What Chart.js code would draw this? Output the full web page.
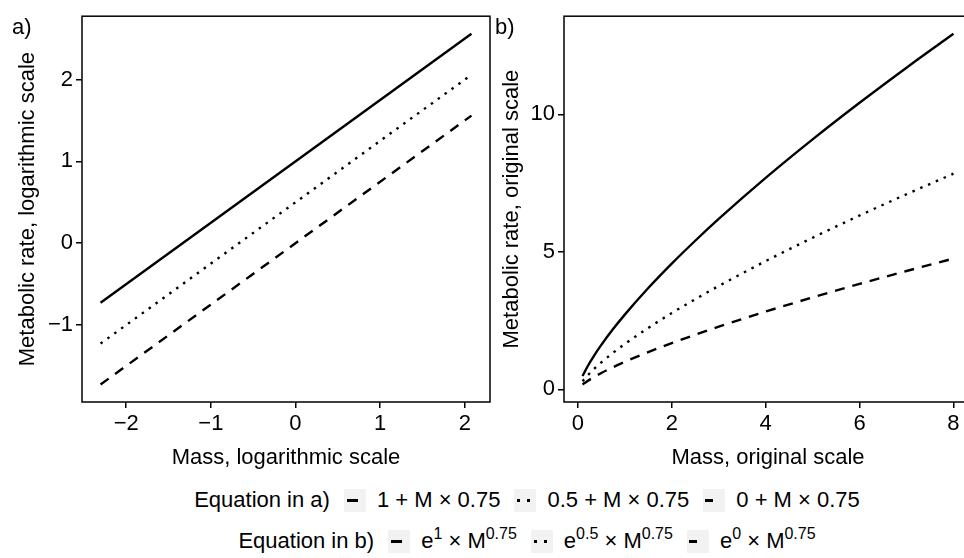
<!DOCTYPE html>
<html>
<head>
<meta charset="utf-8">
<script src="https://cdn.jsdelivr.net/npm/chart.js@4"></script>
<style>
  body { margin: 0; width: 964px; height: 558px; overflow: hidden; background: #fff;
         font-family: "Liberation Sans", Arial, sans-serif; color: #000; position: relative; }
  canvas { position: absolute; top: 0; }
  .tag { position: absolute; font-size: 22px; line-height: 24px; }
  .row { position: absolute; left: 82px; width: 890px; display: flex; justify-content: center;
         align-items: center; font-size: 22px; height: 26px; white-space: nowrap; }
  .key { width: 22px; height: 23px; background: #f2f2f2; position: relative; margin: 0 11px 0 14px; flex: none; }
  .key i { position: absolute; top: 10px; height: 3px; background: #000; }
  sup { font-size: 16px; vertical-align: 9px; line-height: 0; }
</style>
</head>
<body>
<canvas id="chartA" width="500" height="480" style="left:0"></canvas>
<canvas id="chartB" width="500" height="480" style="left:480px"></canvas>
<div class="tag" style="left:12px; top:15px">a)</div>
<div class="tag" style="left:495px; top:15px">b)</div>

<div class="row" style="top:487px">
  <span>Equation in a)</span>
  <span class="key"><i style="left:3px;width:11px"></i></span><span>1 + M × 0.75</span>
  <span class="key"><i style="left:3px;width:3px"></i><i style="left:13px;width:3px"></i></span><span>0.5 + M × 0.75</span>
  <span class="key"><i style="left:2px;width:8px"></i></span><span>0 + M × 0.75</span>
</div>
<div class="row" style="top:528px">
  <span>Equation in b)</span>
  <span class="key"><i style="left:3px;width:11px"></i></span><span>e<sup>1</sup> × M<sup>0.75</sup></span>
  <span class="key"><i style="left:3px;width:3px"></i><i style="left:13px;width:3px"></i></span><span>e<sup>0.5</sup> × M<sup>0.75</sup></span>
  <span class="key"><i style="left:2px;width:8px"></i></span><span>e<sup>0</sup> × M<sup>0.75</sup></span>
</div>

<script>
// panel a: log mass vs log metabolic rate
const logMass = [-2.303, 2.079];
const logRate1 = [-0.727, 2.559];
const logRate05 = [-1.227, 2.059];
const logRate0 = [-1.727, 1.559];
const ticksAx = [-2, -1, 0, 1, 2];
const ticksAy = [-1, 0, 1, 2];

// panel b: original scale
const mass = [0.1, 0.2, 0.35, 0.5, 0.75, 1, 1.5, 2, 2.5, 3, 4, 5, 6, 7, 8];
const rate1 = [0.483, 0.813, 1.237, 1.616, 2.191, 2.718, 3.684, 4.572, 5.404, 6.196, 7.688, 9.089, 10.421, 11.698, 12.930];
const rate05 = [0.293, 0.493, 0.750, 0.980, 1.329, 1.649, 2.235, 2.773, 3.278, 3.758, 4.663, 5.513, 6.321, 7.095, 7.843];
const rate0 = [0.178, 0.299, 0.455, 0.595, 0.806, 1.000, 1.355, 1.682, 1.988, 2.280, 2.828, 3.344, 3.834, 4.304, 4.757];
const ticksBx = [0, 2, 4, 6, 8];
const ticksBy = [0, 5, 10];

const fontMain = { family: '"Liberation Sans", Arial, sans-serif', size: 22 };
const minus = v => String(v).replace('-', '\u2212');

const frame = {
    id: 'frame',
    afterDraw(chart) {
        const a = chart.chartArea, c = chart.ctx;
        c.save();
        c.strokeStyle = '#000';
        c.lineWidth = 1.5;
        c.strokeRect(a.left, a.top, a.right - a.left, a.bottom - a.top);
        c.restore();
    }
};

function toPts(xs, ys) {
    return xs.map((x, i) => ({ x: x, y: ys[i] }));
}

function lineSet(xs, ys, dash) {
    return {
        data: toPts(xs, ys),
        borderColor: '#000',
        borderWidth: 2.4,
        borderDash: dash,
        pointRadius: 0,
        tension: 0.4,
        cubicInterpolationMode: 'monotone'
    };
}

function axis(min, max, tickVals, title, isY, w, titlePad) {
    return {
        type: 'linear',
        min: min,
        max: max,
        afterBuildTicks: s => { s.ticks = tickVals.map(v => ({ value: v })); },
        afterFit: s => { if (isY) s.width = w; else s.height = w; },
        border: { display: false },
        grid: { drawOnChartArea: false, drawTicks: true, tickLength: 6, color: '#000', lineWidth: 1.5 },
        ticks: { color: '#000', font: fontMain, padding: 3, maxRotation: 0, callback: v => minus(v) },
        title: { display: true, text: title, color: '#000', font: fontMain, padding: titlePad }
    };
}

function makeChart(id, sets, xs, ys, rightPad) {
    return new Chart(document.getElementById(id), {
        type: 'line',
        data: { datasets: sets },
        plugins: [frame],
        options: {
            responsive: false,
            animation: false,
            devicePixelRatio: 1,
            layout: { padding: { top: 13, right: rightPad, left: 0, bottom: 0 } },
            plugins: { legend: { display: false }, tooltip: { enabled: false } },
            scales: { x: xs, y: ys }
        }
    });
}

makeChart('chartA',
    [lineSet(logMass, logRate1, []), lineSet(logMass, logRate05, [2.5, 6]), lineSet(logMass, logRate0, [10, 8])],
    axis(-2.522, 2.298, ticksAx, 'Mass, logarithmic scale', false, 78, { top: 0, bottom: 9 }),
    axis(-1.941, 2.774, ticksAy, 'Metabolic rate, logarithmic scale', true, 82, { top: 15, bottom: 0 }),
    10);

makeChart('chartB',
    [lineSet(mass, rate1, []), lineSet(mass, rate05, [2.5, 6]), lineSet(mass, rate0, [10, 8])],
    axis(-0.295, 8.395, ticksBx, 'Mass, original scale', false, 78, { top: 0, bottom: 9 }),
    axis(-0.46, 13.57, ticksBy, 'Metabolic rate, original scale', true, 84, { top: 19, bottom: 0 }),
    8);
</script>
</body>
</html>
